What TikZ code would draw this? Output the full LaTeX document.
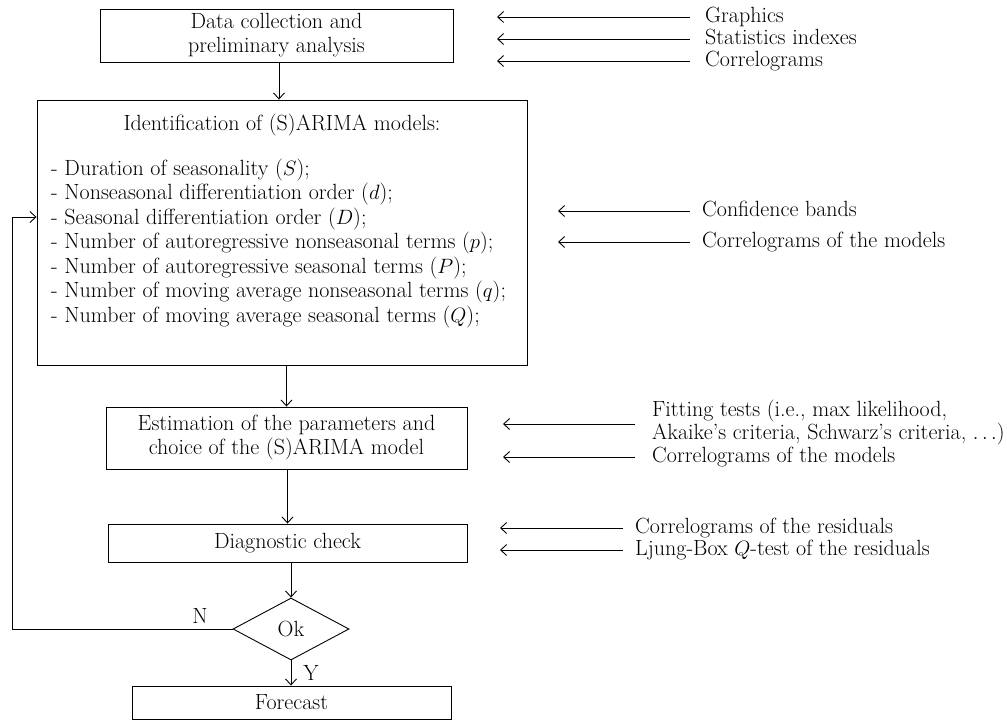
\documentclass[tikz,border=0pt]{standalone}
\usetikzlibrary{arrows.meta,shapes.geometric}
\begin{document}
\begin{tikzpicture}[x=1pt,y=-1pt,
  font=\fontsize{22}{24}\selectfont,
  box/.style={draw, line width=0.9pt, inner sep=0pt, align=center},
  arr/.style={-{Straight Barb[length=6pt,width=11pt]}, line width=0.9pt},
  lbl/.style={anchor=west, inner sep=0pt, text height=15pt, text depth=4.5pt},
  item/.style={anchor=west, inner sep=0pt, text height=15pt, text depth=4.5pt}]
\useasboundingbox (0,0) rectangle (1007,723);

% main boxes
\node[box, minimum width=353pt, minimum height=53pt] (b1) at (276.5,35.5) {Data collection and\\preliminary analysis};
\node[box, minimum width=490pt, minimum height=265pt] (b2) at (282,232.5) {};
\node[box, minimum width=361pt, minimum height=62pt] (b3) at (286.5,438) {Estimation of the parameters and\\choice of the (S)ARIMA model};
\node[box, minimum width=359pt, minimum height=38pt] (b4) at (287.5,543) {Diagnostic check};
\node[draw, line width=0.9pt, diamond, aspect=1.87, minimum width=116pt, minimum height=62pt, inner sep=0pt] (dia) at (291,629) {Ok};
\node[box, minimum width=319pt, minimum height=33pt] (b5) at (291.5,702.5) {Forecast};

% contents of identification box
\node[item, anchor=center] (t0) at (282,125) {Identification of (S)ARIMA models:};
\node[item] (t1) at (51,170) {- Duration of seasonality ($S$);};
\node[item] (t2) at (51,194.5) {- Nonseasonal differentiation order ($d$);};
\node[item] (t3) at (51,219) {- Seasonal differentiation order ($D$);};
\node[item] (t4) at (51,243.5) {- Number of autoregressive nonseasonal terms ($p$);};
\node[item] (t5) at (51,268) {- Number of autoregressive seasonal terms ($P$);};
\node[item] (t6) at (51,292.5) {- Number of moving average nonseasonal terms ($q$);};
\node[item] (t7) at (51,317) {- Number of moving average seasonal terms ($Q$);};

% flow arrows
\draw[arr] (b1.south -| 279,0) -- (b2.north -| 279,0);
\draw[arr] (b3.north |- b2.south) -- (b3.north);
\draw[arr] (b3.south -| b4.north) -- (b4.north);
\draw[arr] (b4.south -| dia.north) -- (dia.north);
\draw[arr] (dia.south) -- (dia.south |- b5.north);
\node[inner sep=0pt] (ly) at (311,673) {Y};
\node[inner sep=0pt] (ln) at (200,616) {N};

% feedback loop
\coordinate (fb1) at (12,629);
\coordinate (fb2) at (12,217);
\draw[arr] (dia.west) -- (fb1) -- (fb2) -- (fb2 -| b2.west);

% side inputs: data collection
\coordinate (a1s) at (690,17);  \coordinate (a1e) at (497,17);
\coordinate (a2s) at (690,39);  \coordinate (a2e) at (497,39);
\coordinate (a3s) at (690,61);  \coordinate (a3e) at (497,61);
\draw[arr] (a1s) -- (a1e);
\draw[arr] (a2s) -- (a2e);
\draw[arr] (a3s) -- (a3e);
\node[lbl] (g1) at (705,17) {Graphics};
\node[lbl] (g2) at (705,39) {Statistics indexes};
\node[lbl] (g3) at (705,61) {Correlograms};

% side inputs: identification
\coordinate (a4s) at (690,211); \coordinate (a4e) at (558,211);
\coordinate (a5s) at (690,242); \coordinate (a5e) at (558,242);
\draw[arr] (a4s) -- (a4e);
\draw[arr] (a5s) -- (a5e);
\node[lbl] (i1) at (702,211) {Confidence bands};
\node[lbl] (i2) at (702,242) {Correlograms of the models};

% side inputs: estimation
\coordinate (a6s) at (635,424); \coordinate (a6e) at (503,424);
\coordinate (a7s) at (635,457); \coordinate (a7e) at (503,457);
\draw[arr] (a6s) -- (a6e);
\draw[arr] (a7s) -- (a7e);
\node[lbl] (e1) at (652,411) {Fitting tests (i.e., max likelihood,};
\node[lbl] (e2) at (652,434) {Akaike's criteria, Schwarz's criteria, $\ldots$)};
\node[lbl] (e3) at (652,457) {Correlograms of the models};

% side inputs: diagnostic
\coordinate (a8s) at (623,528); \coordinate (a8e) at (500,528);
\coordinate (a9s) at (623,550); \coordinate (a9e) at (500,550);
\draw[arr] (a8s) -- (a8e);
\draw[arr] (a9s) -- (a9e);
\node[lbl] (d1) at (635,528) {Correlograms of the residuals};
\node[lbl] (d2) at (635,550) {Ljung-Box $Q$-test of the residuals};
\end{tikzpicture}
\end{document}
